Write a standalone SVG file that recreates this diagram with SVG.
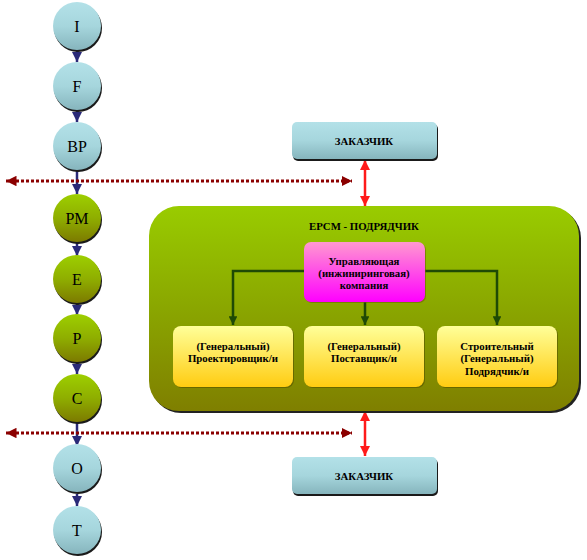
<svg xmlns="http://www.w3.org/2000/svg" width="587" height="560" viewBox="0 0 587 560">
<defs>
<linearGradient id="gBlue" x1="0" y1="0" x2="0" y2="1"><stop offset="0" stop-color="#b3e1e8"/><stop offset="0.5" stop-color="#a6d6dd"/><stop offset="1" stop-color="#86b5bd"/></linearGradient>
<linearGradient id="gGreen" x1="0" y1="0" x2="0" y2="1"><stop offset="0" stop-color="#9dcf00"/><stop offset="0.5" stop-color="#8fae00"/><stop offset="1" stop-color="#7c7a00"/></linearGradient>
<linearGradient id="gBig" x1="0" y1="0" x2="0" y2="1"><stop offset="0" stop-color="#99cc00"/><stop offset="0.5" stop-color="#8aa600"/><stop offset="1" stop-color="#7f7f00"/></linearGradient>
<linearGradient id="gPink" x1="0" y1="0" x2="0" y2="1"><stop offset="0" stop-color="#ff99d0"/><stop offset="1" stop-color="#ff00ff"/></linearGradient>
<linearGradient id="gYellow" x1="0" y1="0" x2="0" y2="1"><stop offset="0" stop-color="#ffff99"/><stop offset="1" stop-color="#ffcc11"/></linearGradient>
<marker id="aNavy" viewBox="0 0 10 10" refX="10" refY="5" markerWidth="4" markerHeight="4" orient="auto"><path d="M0,0 L10,5 L0,10 z" fill="#2a2a78"/></marker>
<marker id="aRed" viewBox="0 0 10 10" refX="10" refY="5" markerWidth="3.5" markerHeight="3.5" orient="auto-start-reverse"><path d="M0,0 L10,5 L0,10 z" fill="#8b0000"/></marker>
<marker id="aBright" viewBox="0 0 10 10" refX="10" refY="5" markerWidth="4" markerHeight="4" orient="auto-start-reverse"><path d="M0,0 L10,5 L0,10 z" fill="#ff1a1a"/></marker>
<marker id="aDark" viewBox="0 0 10 10" refX="10" refY="5" markerWidth="3.5" markerHeight="3.5" orient="auto"><path d="M0,0 L10,5 L0,10 z" fill="#1f4a05"/></marker>
</defs>
<style>
.sh{fill:#1a1a1a}
.cb{fill:url(#gBlue)}
.cg{fill:url(#gGreen)}
.cl{font-family:"Liberation Serif",serif;font-size:16px;fill:#000;text-anchor:middle}
.bt{font-family:"Liberation Serif",serif;font-size:10.8px;font-weight:bold;fill:#000;text-anchor:middle}
.nav{stroke:#2a2a78;stroke-width:2.5;fill:none;marker-end:url(#aNavy)}
.dot{stroke:#8b0000;stroke-width:3;stroke-dasharray:3 2;fill:none;marker-start:url(#aRed);marker-end:url(#aRed)}
.red{stroke:#ff1a1a;stroke-width:2.5;fill:none;marker-start:url(#aBright);marker-end:url(#aBright)}
.dk{stroke:#1f4a05;stroke-width:2.5;fill:none;marker-end:url(#aDark)}
</style>

<g id="connectors">
<line class="nav" x1="77" y1="50" x2="77" y2="62"/>
<line class="nav" x1="77" y1="110" x2="77" y2="122"/>
<line class="nav" x1="77" y1="170" x2="77" y2="194"/>
<line class="nav" x1="77" y1="242" x2="77" y2="256"/>
<line class="nav" x1="77" y1="304" x2="77" y2="315"/>
<line class="nav" x1="77" y1="362" x2="77" y2="374"/>
<line class="nav" x1="77" y1="422" x2="77" y2="446"/>
<line class="nav" x1="77" y1="494" x2="77" y2="506"/>
<line class="dot" x1="6" y1="181" x2="352" y2="181"/>
<line class="dot" x1="6" y1="433" x2="352" y2="433"/>
<line class="red" x1="365" y1="160" x2="365" y2="206"/>
<line class="red" x1="365" y1="411" x2="365" y2="456"/>
</g>

<g id="circle-I"><circle class="sh" cx="78" cy="28" r="24"/><circle class="cb" cx="77" cy="26" r="24"/><text class="cl" x="77" y="32">I</text></g>
<g id="circle-F"><circle class="sh" cx="78" cy="88" r="24"/><circle class="cb" cx="77" cy="86" r="24"/><text class="cl" x="77" y="92">F</text></g>
<g id="circle-BP"><circle class="sh" cx="78" cy="148" r="24"/><circle class="cb" cx="77" cy="146" r="24"/><text class="cl" x="77" y="152">BP</text></g>
<g id="circle-PM"><circle class="sh" cx="78" cy="220" r="24"/><circle class="cg" cx="77" cy="218" r="24"/><text class="cl" x="77" y="224">PM</text></g>
<g id="circle-E"><circle class="sh" cx="78" cy="281" r="24"/><circle class="cg" cx="77" cy="279" r="24"/><text class="cl" x="77" y="285">E</text></g>
<g id="circle-P"><circle class="sh" cx="78" cy="340" r="24"/><circle class="cg" cx="77" cy="338" r="24"/><text class="cl" x="77" y="344">P</text></g>
<g id="circle-C"><circle class="sh" cx="78" cy="400" r="24"/><circle class="cg" cx="77" cy="398" r="24"/><text class="cl" x="77" y="404">C</text></g>
<g id="circle-O"><circle class="sh" cx="78" cy="470" r="24"/><circle class="cb" cx="77" cy="468" r="24"/><text class="cl" x="77" y="474">O</text></g>
<g id="circle-T"><circle class="sh" cx="78" cy="532" r="24"/><circle class="cb" cx="77" cy="530" r="24"/><text class="cl" x="77" y="536">T</text></g>

<g id="client-top"><rect class="sh" x="293" y="124" width="145" height="37" rx="5"/><rect x="292" y="122" width="145" height="37" rx="5" fill="url(#gBlue)"/><text class="bt" x="364" y="145">ЗАКАЗЧИК</text></g>
<g id="client-bottom"><rect class="sh" x="293" y="459" width="145" height="37" rx="5"/><rect x="292" y="457" width="145" height="37" rx="5" fill="url(#gBlue)"/><text class="bt" x="364" y="480">ЗАКАЗЧИК</text></g>

<g id="epcm">
<rect x="151" y="208" width="430" height="205" rx="30" fill="#222"/>
<rect x="149" y="206" width="430" height="205" rx="30" fill="url(#gBig)"/>
<text class="bt" x="364" y="230">EPCM - ПОДРЯДЧИК</text>
</g>

<g id="connectors-inner">
<polyline class="dk" points="304,271 233,271 233,325"/>
<polyline class="dk" points="425,271 497,271 497,325"/>
<line class="dk" x1="365" y1="302" x2="365" y2="325"/>
</g>

<g id="manager"><rect x="305" y="243" width="121" height="60" rx="7" fill="#6a6a00" opacity="0.6"/><rect x="304" y="242" width="121" height="60" rx="7" fill="url(#gPink)"/>
<text class="bt" x="364" y="265">Управляющая</text><text class="bt" x="364" y="277">(инжиниринговая)</text><text class="bt" x="364" y="289">компания</text></g>

<g id="designer"><rect x="174" y="327" width="120" height="61" rx="8" fill="#5a5a00" opacity="0.7"/><rect x="173" y="326" width="120" height="61" rx="8" fill="url(#gYellow)"/>
<text class="bt" x="233" y="350">(Генеральный)</text><text class="bt" x="233" y="362">Проектировщик/и</text></g>
<g id="supplier"><rect x="305" y="327" width="120" height="61" rx="8" fill="#5a5a00" opacity="0.7"/><rect x="304" y="326" width="120" height="61" rx="8" fill="url(#gYellow)"/>
<text class="bt" x="364" y="350">(Генеральный)</text><text class="bt" x="364" y="362">Поставщик/и</text></g>
<g id="contractor"><rect x="438" y="327" width="120" height="61" rx="8" fill="#5a5a00" opacity="0.7"/><rect x="437" y="326" width="120" height="61" rx="8" fill="url(#gYellow)"/>
<text class="bt" x="497" y="350">Строительный</text><text class="bt" x="497" y="362">(Генеральный)</text><text class="bt" x="497" y="375">Подрядчик/и</text></g>
</svg>
